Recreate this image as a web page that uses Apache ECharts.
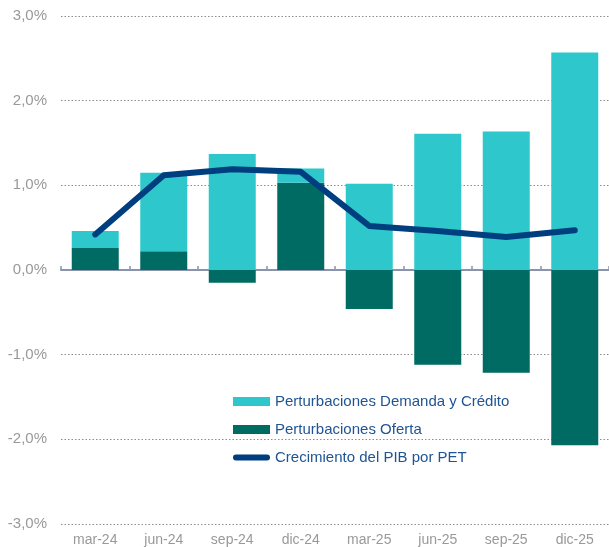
<!DOCTYPE html>
<html>
<head>
<meta charset="utf-8">
<script src="https://cdn.jsdelivr.net/npm/echarts@6/dist/echarts.min.js"></script>
<style>
  html, body { margin: 0; padding: 0; background: #fff; }
  #chart { width: 609px; height: 547px; }
</style>
</head>
<body>
<div id="chart"></div>
<script>
const categories = ['mar-24', 'jun-24', 'sep-24', 'dic-24', 'mar-25', 'jun-25', 'sep-25', 'dic-25']
const demanda = [0.20, 0.93, 1.37, 0.17, 1.02, 1.61, 1.635, 2.57]
const oferta = [0.26, 0.22, -0.15, 1.03, -0.46, -1.12, -1.215, -2.07]
const pib = [0.42, 1.12, 1.19, 1.16, 0.52, 0.46, 0.39, 0.47]
const yTicks = [-3, -2, -1, 0, 1, 2, 3]

const names = {
    demanda: 'Perturbaciones Demanda y Crédito',
    oferta: 'Perturbaciones Oferta',
    pib: 'Crecimiento del PIB por PET'
}

const fmt = v => v.toFixed(1).replace('.', ',') + '%'

// pastilla redondeada para el icono de la línea (con puntos vacíos para fijar la caja)
const pillIcon = 'path://M0,0L0.01,0L0,0.01ZM3,1.5L34,1.5A3,3 0 0 1 34,7.5L3,7.5A3,3 0 0 1 3,1.5ZM37,9L36.99,9L37,8.99Z'

const myChart = echarts.init(document.getElementById('chart'))
myChart.setOption({
    animation: false,
    textStyle: { fontFamily: 'Liberation Sans, Arial, sans-serif' },
    grid: { left: 61, right: 0, top: 16, bottom: 21, containLabel: false },
    legend: {
        orient: 'vertical',
        left: 233,
        top: 394,
        padding: 0,
        itemWidth: 37,
        itemHeight: 9,
        itemGap: 13,
        textStyle: { color: '#1F5493', fontSize: 15 },
        data: [
            { name: names.demanda, icon: 'rect' },
            { name: names.oferta, icon: 'rect' },
            { name: names.pib, icon: pillIcon }
        ]
    },
    xAxis: [
        {
            type: 'category',
            data: categories,
            position: 'bottom',
            axisLine: { show: false, onZero: false },
            axisTick: { show: false },
            axisLabel: { color: '#999999', fontSize: 14, margin: 9 }
        },
        {
            type: 'category',
            data: categories,
            axisLine: { show: true, onZero: true, lineStyle: { color: '#8a94ac', width: 2 } },
            axisTick: { show: true, length: 4, lineStyle: { color: '#8a94ac', width: 1.5 } },
            axisLabel: { show: false }
        }
    ],
    yAxis: {
        type: 'value',
        min: yTicks[0],
        max: yTicks[yTicks.length - 1],
        interval: 1,
        axisLine: { show: false },
        axisTick: { show: false },
        axisLabel: { color: '#999999', fontSize: 15, margin: 14, formatter: fmt },
        splitLine: { lineStyle: { color: '#8c8c8c', type: [1.5, 2], width: 1.2 } }
    },
    series: [
        {
            name: names.oferta,
            type: 'bar',
            stack: 'total',
            barWidth: 47,
            itemStyle: { color: '#006B63' },
            data: oferta
        },
        {
            name: names.demanda,
            type: 'bar',
            stack: 'total',
            barWidth: 47,
            itemStyle: { color: '#2EC8CC' },
            data: demanda
        },
        {
            name: names.pib,
            type: 'line',
            symbol: 'none',
            z: 5,
            lineStyle: { color: '#003F7F', width: 6, cap: 'round', join: 'round' },
            itemStyle: { color: '#003F7F' },
            data: pib
        }
    ]
})
</script>
</body>
</html>
